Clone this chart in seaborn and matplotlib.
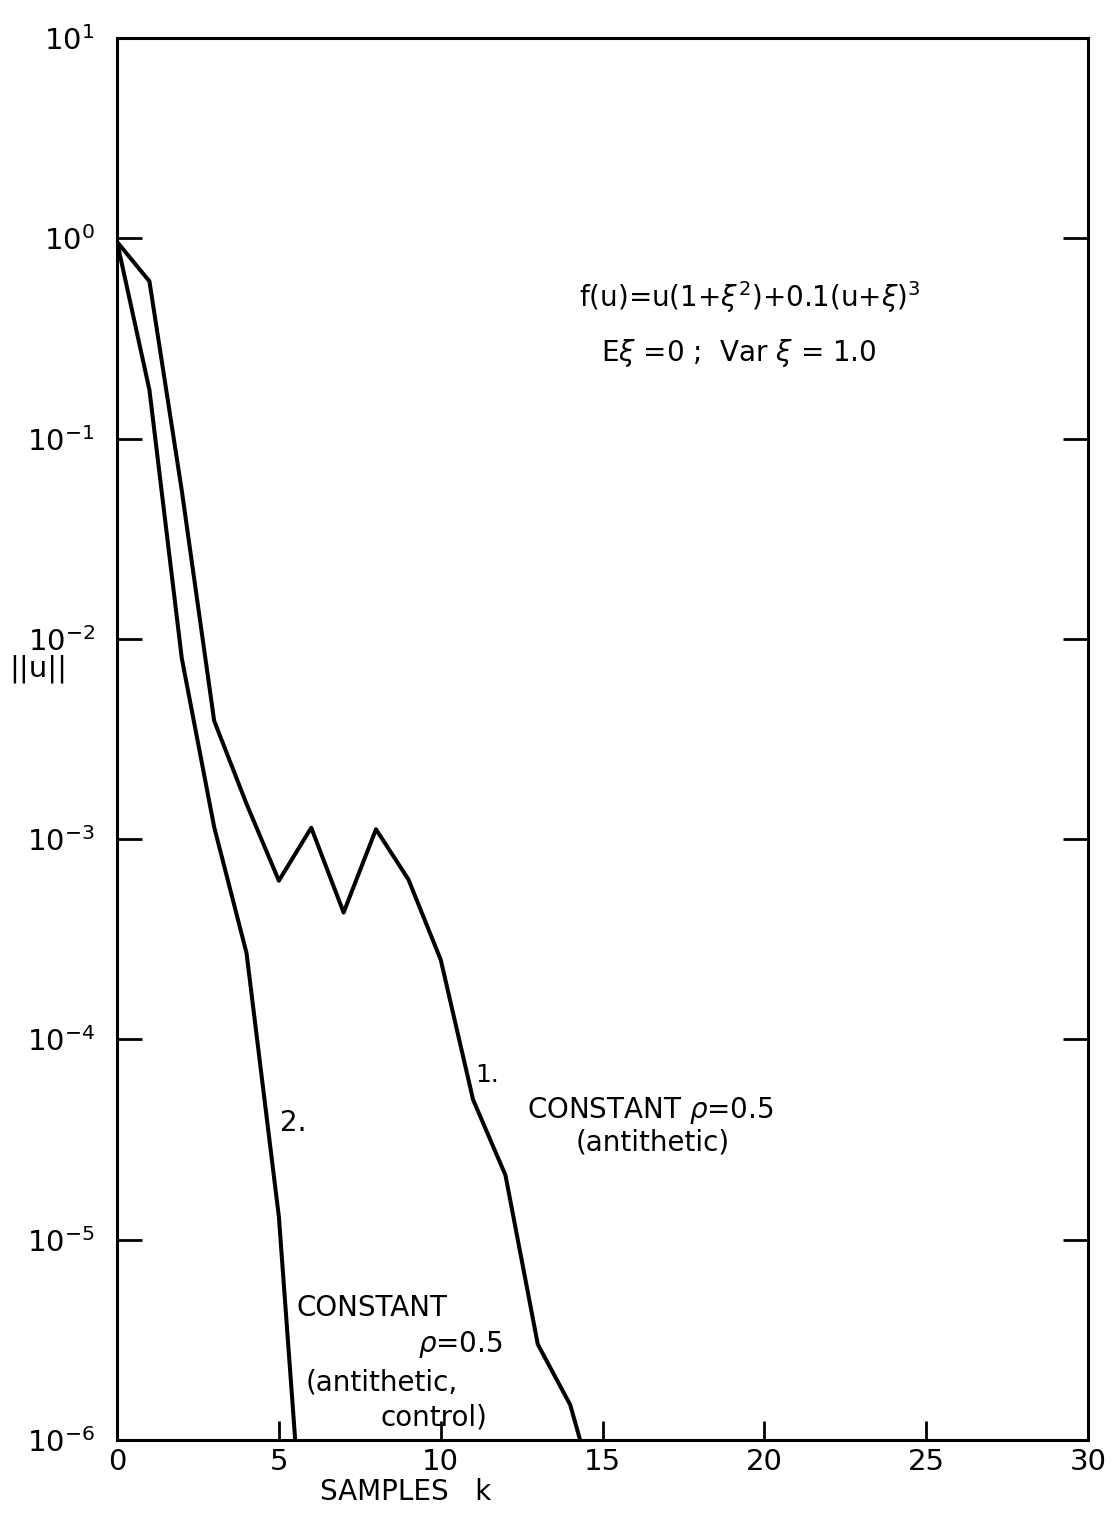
import numpy as np
import pandas as pd
import matplotlib
matplotlib.use('Agg')
import matplotlib.pyplot as plt
from matplotlib.ticker import FixedLocator, NullLocator, FixedFormatter
import seaborn as sns

# curve 1: constant rho=0.5 (antithetic)
k1 = [0, 1, 2, 3, 4, 5, 6, 7, 8, 9, 10, 11, 12, 13, 14, 15]
norm1 = [0.96, 0.61, 0.055, 3.9e-3, 1.5e-3, 6.2e-4, 1.14e-3, 4.3e-4,
         1.12e-3, 6.3e-4, 2.5e-4, 5.0e-5, 2.1e-5, 3.0e-6, 1.5e-6, 4e-7]

# curve 2: constant rho=0.5 (antithetic, control)
k2 = [0, 1, 2, 3, 4, 5, 6]
norm2 = [0.96, 0.175, 0.008, 1.15e-3, 2.7e-4, 1.3e-5, 8e-8]

xticks = [0, 5, 10, 15, 20, 25, 30]
ydecades = [1, 0, -1, -2, -3, -4, -5, -6]


def build_df():
	data = {'k': [], 'norm': [], 'curve': []}
	for k, v in zip(k1, norm1):
		data['k'].append(k)
		data['norm'].append(v)
		data['curve'].append('1')
	for k, v in zip(k2, norm2):
		data['k'].append(k)
		data['norm'].append(v)
		data['curve'].append('2')
	return pd.DataFrame(data)


def plot(df):
	sns.set_style('ticks')
	plt.rcParams['font.family'] = ['DejaVu Sans']
	plt.rcParams['mathtext.fontset'] = 'dejavusans'
	plt.rcParams.update({'text.color': 'black', 'axes.labelcolor': 'black',
						 'xtick.color': 'black', 'ytick.color': 'black'})

	fig = plt.figure(figsize=(11.18, 15.14), dpi=100)
	ax = fig.add_axes([0.1047, 0.0489, 0.8685, 0.926])

	sns.lineplot(data=df, x='k', y='norm', hue='curve', palette=['black', 'black'],
				 ax=ax, linewidth=2.9, legend=False, sort=False)

	ax.set_yscale('log')
	ax.set_xlim(0, 30)
	ax.set_ylim(1e-6, 10)

	ax.yaxis.set_major_locator(FixedLocator([10.0 ** d for d in ydecades]))
	ax.yaxis.set_minor_locator(NullLocator())
	ax.yaxis.set_major_formatter(FixedFormatter([r'$10^{%d}$' % d for d in ydecades]))
	ax.set_xticks(xticks)
	ax.set_xticklabels([str(t) for t in xticks])

	ax.tick_params(axis='y', which='major', direction='in', length=18, width=2,
				   left=True, right=True, labelsize=21, pad=16)
	ax.tick_params(axis='x', which='major', direction='in', length=14, width=2,
				   top=False, bottom=True, labelsize=21, pad=6)
	for s in ax.spines.values():
		s.set_linewidth(2.2)
		s.set_color('black')

	ax.set_ylabel('||u||', rotation=0, fontsize=21, va='center', ha='center')
	ax.yaxis.set_label_coords(-0.081, 0.550)
	ax.set_xlabel('SAMPLES   k', fontsize=20)
	ax.xaxis.set_label_coords(0.297, -0.027)

	tx = dict(transform=ax.transAxes, fontsize=20, color='black')
	ax.text(0.652, 0.815, r'f(u)=u(1+$\xi^2$)+0.1(u+$\xi$)$^3$', ha='center', va='center', **tx)
	ax.text(0.640, 0.775, r'E$\xi$ =0 ;  Var $\xi$ = 1.0', ha='center', va='center', **tx)

	ax.text(0.369, 0.260, '1.', ha='left', va='center', fontsize=18, transform=ax.transAxes)
	ax.text(0.422, 0.235, r'CONSTANT $\rho$=0.5', ha='left', va='center', **tx)
	ax.text(0.472, 0.212, '(antithetic)', ha='left', va='center', **tx)

	ax.text(0.168, 0.226, '2.', ha='left', va='center', **tx)
	ax.text(0.185, 0.094, 'CONSTANT', ha='left', va='center', **tx)
	ax.text(0.310, 0.068, r'$\rho$=0.5', ha='left', va='center', **tx)
	ax.text(0.194, 0.041, '(antithetic,', ha='left', va='center', **tx)
	ax.text(0.271, 0.016, 'control)', ha='left', va='center', **tx)

	fig.savefig('out.png', dpi=100)


if __name__ == '__main__':
	df = build_df()
	plot(df)
